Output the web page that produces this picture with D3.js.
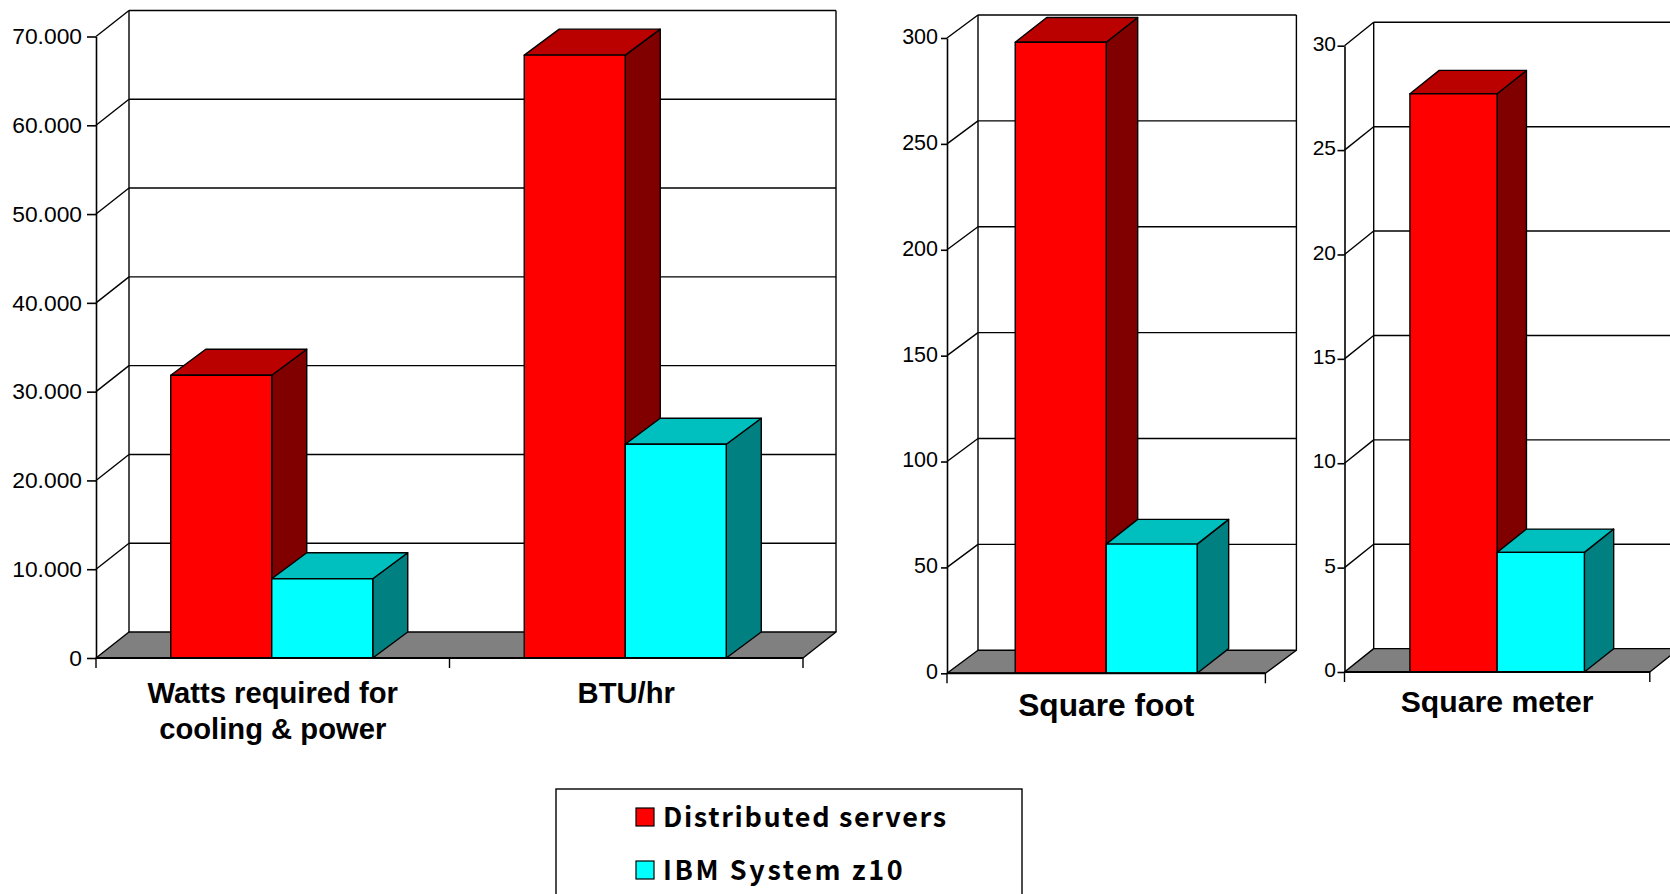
<!DOCTYPE html>
<html><head><meta charset="utf-8">
<script src="https://cdn.jsdelivr.net/npm/d3@7/dist/d3.min.js"></script>
<style>
html,body{margin:0;padding:0;background:#fff;overflow:hidden}
svg{display:block}
.tick-label{font-family:"Liberation Sans",Arial,sans-serif;fill:#000}
.cat{font-family:"Liberation Sans",Arial,sans-serif;font-weight:700;fill:#000}
.leg{font-family:"Noto Sans CJK JP",sans-serif;font-weight:700;font-size:27px;fill:#000}
</style></head><body>
<svg id="c" width="1670" height="894"></svg>
<script>
// ---- data ----
const seriesNames = ["Distributed servers", "IBM System z10"];
const powerCategories = [["Watts required for", "cooling & power"], ["BTU/hr"]];
const powerDistributed = [31850, 67900];
const powerZ10 = [8920, 24080];
const powerTicks = [0, 10000, 20000, 30000, 40000, 50000, 60000, 70000];
const footCategories = [["Square foot"]];
const footDistributed = [298];
const footZ10 = [61];
const footTicks = [0, 50, 100, 150, 200, 250, 300];
const meterCategories = [["Square meter"]];
const meterDistributed = [27.7];
const meterZ10 = [5.73];
const meterTicks = [0, 5, 10, 15, 20, 25, 30];

// ---- styling / layout ----
const palette = [
  {front:"#ff0000", top:"#bb0000", side:"#800000"},
  {front:"#00ffff", top:"#00bfbf", side:"#008080"}
];
const floorColor = "#808080";
const legendSpacing = [1.65, 2.6];
const locale = d3.formatLocale({decimal:",", thousands:".", grouping:[3], currency:["",""]});
const panels = [
  {cats:powerCategories, a:powerDistributed, b:powerZ10, ticks:powerTicks, fmt:locale.format(",d"),
   x0:96, x1:803, y0:658, yT:36.5, dx:33, dy:26, bdx:35, bdy:26, barShift:-1, fs:29.2, base:702.5, lh:36,
   tick:9, pad:5, tfs:22.8, tdy:0},
  {cats:footCategories, a:footDistributed, b:footZ10, ticks:footTicks, fmt:d3.format("d"),
   x0:947, x1:1265.4, y0:673.3, yT:38, dx:31, dy:23, bdx:31.5, bdy:24.7, barShift:0, fs:31.7, base:716, lh:36,
   tick:6, pad:3, tfs:21.5, tdy:-1.5},
  {cats:meterCategories, a:meterDistributed, b:meterZ10, ticks:meterTicks, fmt:d3.format("d"),
   x0:1344.5, x1:1649.8, y0:672, yT:45.7, dx:29.2, dy:23.4, bdx:29.3, bdy:23.3, barShift:0, fs:30.2, base:711.5, lh:36,
   tick:7, pad:1.5, tfs:21, tdy:-2.2}
];

const svg = d3.select("#c");
const LW = 1.4;

function poly(g, pts, fill){
  return g.append("polygon").attr("points", pts.map(p=>p.join(",")).join(" "))
    .attr("fill", fill).attr("stroke","#000").attr("stroke-width",LW).attr("stroke-linejoin","round");
}

panels.forEach(p=>{
  const g = svg.append("g");
  const y = d3.scaleLinear().domain([0, d3.max(p.ticks)]).range([p.y0, p.yT]);
  const keys = p.cats.map(c=>c.join(" "));
  const x = d3.scaleBand().domain(keys).range([p.x0, p.x1]);
  const xs = d3.scaleBand().domain([0,1]).range([0, x.bandwidth()]).paddingInner(0).paddingOuter(0.75);
  const top = y(d3.max(p.ticks));

  // back wall, grid lines, side wall diagonals
  g.append("g").selectAll("line.grid").data(p.ticks.slice(1)).join("line")
    .attr("x1",p.x0+p.dx).attr("x2",p.x1+p.dx)
    .attr("y1",d=>y(d)-p.dy).attr("y2",d=>y(d)-p.dy)
    .attr("stroke","#000").attr("stroke-width",LW);
  g.append("g").selectAll("line").data(p.ticks.slice(1)).join("line")
    .attr("x1",p.x0).attr("x2",p.x0+p.dx)
    .attr("y1",d=>y(d)).attr("y2",d=>y(d)-p.dy)
    .attr("stroke","#000").attr("stroke-width",LW);
  g.append("line").attr("x1",p.x0+p.dx).attr("x2",p.x0+p.dx)
    .attr("y1",top-p.dy).attr("y2",p.y0-p.dy).attr("stroke","#000").attr("stroke-width",LW);
  g.append("line").attr("x1",p.x1+p.dx).attr("x2",p.x1+p.dx)
    .attr("y1",top-p.dy).attr("y2",p.y0-p.dy).attr("stroke","#000").attr("stroke-width",LW);

  // floor
  poly(g, [[p.x0,p.y0],[p.x0+p.dx,p.y0-p.dy],[p.x1+p.dx,p.y0-p.dy],[p.x1,p.y0]], floorColor);

  // bars
  keys.forEach((k,i)=>{
    [p.a[i], p.b[i]].forEach((v,s)=>{
      const bx = x(k)+xs(s)+p.barShift, bw = xs.bandwidth(), c = palette[s];
      const by = y(v), b0 = y(0);
      poly(g, [[bx+bw,by],[bx+bw+p.bdx,by-p.bdy],[bx+bw+p.bdx,b0-p.bdy],[bx+bw,b0]], c.side);
      poly(g, [[bx,by],[bx+p.bdx,by-p.bdy],[bx+bw+p.bdx,by-p.bdy],[bx+bw,by]], c.top);
      poly(g, [[bx,by],[bx+bw,by],[bx+bw,b0],[bx,b0]], c.front);
    });
  });

  // value axis
  const ax = g.append("g").attr("transform",`translate(${p.x0},0)`)
    .call(d3.axisLeft(y).tickValues(p.ticks).tickFormat(p.fmt).tickSizeInner(p.tick).tickSizeOuter(0).tickPadding(p.pad));
  ax.selectAll("path,line").attr("stroke","#000").attr("stroke-width",LW+0.2);
  ax.attr("font-family",null).attr("font-size",null);
  ax.selectAll("text").attr("class","tick-label").attr("font-size",p.tfs)
    .attr("transform",`translate(0,${p.tdy})`);

  // category axis
  const edges = keys.map(k=>x(k)).concat([p.x1]);
  g.append("line").attr("x1",p.x0).attr("x2",p.x1).attr("y1",p.y0).attr("y2",p.y0)
    .attr("stroke","#000").attr("stroke-width",LW+0.6);
  g.append("g").selectAll("line").data(edges).join("line")
    .attr("x1",d=>d).attr("x2",d=>d).attr("y1",p.y0).attr("y2",p.y0+10)
    .attr("stroke","#000").attr("stroke-width",LW);
  keys.forEach((k,i)=>{
    const t = g.append("text").attr("class","cat").attr("text-anchor","middle")
      .attr("font-size",p.fs).attr("y",p.base);
    p.cats[i].forEach((line,j)=>{
      t.append("tspan").attr("x",x(k)+x.bandwidth()/2).attr("y",p.base+j*p.lh).text(line);
    });
  });
});

// legend
const lg = svg.append("g");
lg.append("rect").attr("x",556).attr("y",789).attr("width",466).attr("height",130)
  .attr("fill","#fff").attr("stroke","#000").attr("stroke-width",1.4);
const legendRows = d3.scalePoint().domain(seriesNames).range([817,870]);
seriesNames.forEach((n,i)=>{
  const cy = legendRows(n);
  lg.append("rect").attr("x",636).attr("y",cy-9).attr("width",18).attr("height",18)
    .attr("fill",palette[i].front).attr("stroke","#000").attr("stroke-width",1.2);
  lg.append("text").attr("class","leg").attr("x",663).attr("y",cy+10)
    .attr("letter-spacing",legendSpacing[i]+"px").text(n);
});
</script></body></html>
